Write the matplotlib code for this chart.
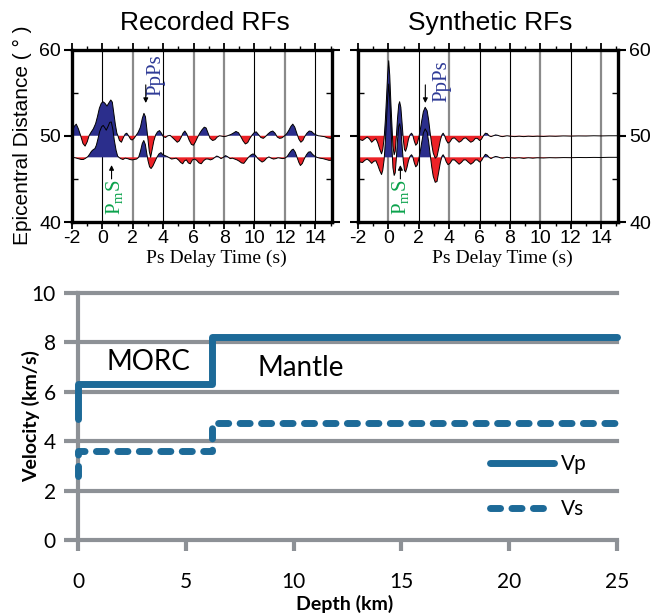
import numpy as np
import matplotlib.pyplot as plt

plt.rcParams['font.family'] = 'Liberation Sans'
plt.rcParams['axes.unicode_minus'] = False
plt.rcParams['mathtext.fontset'] = 'custom'
plt.rcParams['mathtext.rm'] = 'Liberation Serif'

# ---- receiver function traces (delay time in s, amplitude in degrees of offset) ----
rec_top_t = [-2.0, -1.85, -1.72, -1.58, -1.43, -1.28, -1.14, -1.0, -0.88, -0.75, -0.6, -0.45,
             -0.33, -0.2, -0.08, 0.03, 0.15, 0.3, 0.42, 0.55, 0.65, 0.75, 0.85, 0.95, 1.02, 1.12,
             1.25, 1.38, 1.5, 1.6, 1.72, 1.85, 1.95, 2.08, 2.2, 2.35, 2.5, 2.62, 2.73, 2.83, 2.92,
             3.0, 3.08, 3.17, 3.27, 3.38, 3.5, 3.62, 3.75, 3.88, 4.0, 4.15, 4.3, 4.45, 4.6, 4.75,
             4.92, 5.05, 5.2, 5.3, 5.42, 5.55, 5.7, 5.85, 5.98, 6.12, 6.25, 6.4, 6.55, 6.7, 6.82,
             6.95, 7.08, 7.25, 7.4, 7.55, 7.7, 7.85, 8.0, 8.15, 8.3, 8.45, 8.6, 8.78, 8.95, 9.1,
             9.25, 9.4, 9.55, 9.7, 9.85, 10.0, 10.12, 10.28, 10.42, 10.58, 10.72, 10.88, 11.05,
             11.2, 11.35, 11.5, 11.65, 11.8, 11.95, 12.1, 12.25, 12.4, 12.52, 12.65, 12.8, 12.92,
             13.05, 13.18, 13.3, 13.45, 13.6, 13.75, 13.9, 14.05, 14.2, 14.4, 14.6, 14.8, 15.0, 15.1]
rec_top_a = [0.5, 1.1, 1.35, 0.8, 0.0, -0.9, -1.2, -0.7, 0.0, 0.4, 0.8, 1.4,
             2.2, 3.2, 3.75, 3.95, 3.8, 3.45, 3.8, 4.15, 3.9, 2.6, 1.3, 0.3, 0.0, -0.55,
             -0.75, -0.2, 0.2, 0.3, 0.0, -0.4, -0.5, -0.3, 0.0, 0.4, 1.0, 2.0, 2.6, 2.2, 0.8,
             -0.5, -1.8, -2.5, -1.6, -0.6, 0.1, 0.45, 0.6, 0.3, -0.1, -0.2, 0.0, 0.05, -0.2, -0.45,
             -0.75, -0.6, -0.1, 0.3, 0.55, 0.2, -0.5, -1.0, -1.1, -0.7, -0.2, 0.3, 0.7, 1.0, 0.9,
             0.3, -0.3, -0.55, -0.45, -0.15, 0.0, -0.05, -0.1, -0.05, 0.05, 0.15, 0.3, 0.5, 0.35, -0.1,
             -0.6, -0.95, -0.8, -0.3, 0.1, 0.4, 0.45, 0.1, -0.2, -0.3, -0.1, 0.2, 0.45,
             0.55, 0.3, -0.15, -0.3, -0.25, -0.05, 0.2, 0.6, 1.1, 1.35, 1.0, 0.2, -0.4,
             -0.75, -0.55, -0.1, 0.3, 0.55, 0.5, 0.25, 0.1, 0.0, -0.05, -0.1, -0.25, -0.3, -0.3]

rec_bot_t = [-2.0, -1.8, -1.6, -1.4, -1.25, -1.1, -0.95, -0.85, -0.72, -0.6, -0.5, -0.4, -0.3,
             -0.18, -0.05, 0.05, 0.15, 0.25, 0.35, 0.48, 0.58, 0.68, 0.78, 0.9, 1.0, 1.08, 1.2,
             1.35, 1.5, 1.65, 1.8, 1.95, 2.1, 2.25, 2.38, 2.5, 2.62, 2.72, 2.82, 2.92, 3.0, 3.1,
             3.2, 3.32, 3.45, 3.58, 3.72, 3.85, 3.98, 4.12, 4.25, 4.4, 4.55, 4.7, 4.85, 5.0, 5.15,
             5.28, 5.4, 5.52, 5.65, 5.78, 5.92, 6.05, 6.2, 6.35, 6.5, 6.65, 6.8, 6.95, 7.1, 7.25,
             7.4, 7.52, 7.65, 7.8, 7.95, 8.1, 8.25, 8.4, 8.55, 8.7, 8.85, 9.0, 9.15, 9.3, 9.45,
             9.6, 9.75, 9.9, 10.05, 10.2, 10.35, 10.5, 10.65, 10.8, 10.95, 11.1, 11.25, 11.4,
             11.55, 11.7, 11.85, 12.0, 12.15, 12.3, 12.45, 12.55, 12.68, 12.8, 12.92, 13.02,
             13.15, 13.28, 13.42, 13.55, 13.68, 13.82, 13.95, 14.1, 14.3, 14.5, 14.7, 14.9, 15.1]
rec_bot_a = [0.0, -0.05, -0.15, -0.25, -0.25, -0.1, 0.1, 0.35, 0.7, 0.9, 1.0, 1.4, 2.1,
             3.0, 3.55, 3.7, 3.45, 3.15, 3.5, 4.05, 4.1, 3.3, 2.0, 0.8, 0.15, 0.0, -0.15,
             -0.25, -0.1, -0.15, -0.25, -0.3, -0.25, -0.2, 0.0, 0.7, 1.6, 1.95, 1.5, 0.4, -0.4, -1.1,
             -1.3, -1.0, -0.5, 0.0, 0.4, 0.55, 0.3, 0.2, 0.1, -0.05, -0.2, -0.15, -0.1, -0.3, -0.6,
             -0.75, -0.4, -0.3, -0.65, -0.75, -0.3, -0.2, -0.35, -0.65, -0.75, -0.4, -0.2, -0.2, -0.3, -0.2,
             0.0, 0.15, 0.05, -0.15, 0.0, 0.2, 0.05, -0.15, -0.1, -0.2, -0.3, -0.45, -0.65, -0.7, -0.35,
             0.0, 0.25, 0.4, 0.25, -0.1, -0.35, -0.55, -0.4, -0.1, 0.05, -0.1, -0.2, -0.15,
             -0.05, -0.1, -0.15, -0.1, 0.1, 0.5, 0.85, 0.95, 0.6, 0.0, -0.6, -0.95,
             -0.7, -0.15, 0.3, 0.6, 0.65, 0.35, 0.15, 0.0, -0.1, -0.15, -0.25, -0.35, -0.35]

syn_t = [-2.0, -1.85, -1.7, -1.55, -1.4, -1.25, -1.1, -0.95, -0.82, -0.7, -0.58, -0.45, -0.37,
         -0.28, -0.2, -0.12, -0.05, 0.02, 0.09, 0.16, 0.24, 0.3, 0.38, 0.45, 0.52, 0.6, 0.68,
         0.74, 0.82, 0.9, 0.98, 1.06, 1.13, 1.22, 1.32, 1.42, 1.52, 1.6, 1.7, 1.8, 1.9, 2.0,
         2.1, 2.2, 2.3, 2.42, 2.55, 2.65, 2.75, 2.85, 2.95, 3.08, 3.2, 3.32, 3.42, 3.52, 3.6,
         3.7, 3.8, 3.92, 4.05, 4.2, 4.35, 4.5, 4.65, 4.8, 4.95, 5.1, 5.25, 5.42, 5.58, 5.72,
         5.85, 6.0, 6.12, 6.25, 6.38, 6.5, 6.62, 6.75, 6.9, 7.05, 7.2, 7.35, 7.5, 7.65, 7.8,
         8.0, 8.3, 8.6, 8.9, 9.2, 9.5, 9.8, 10.2, 10.6, 11.0, 11.5, 12.0, 12.5, 13.0, 13.5,
         14.0, 14.5, 15.1]
syn_top_a = [-0.3, -0.45, -0.55, -0.35, -0.15, -0.35, -0.75, -0.5, -0.35, -0.8, -1.5, -2.1, -1.6,
             -0.3, 1.8, 4.5, 7.0, 8.7, 7.0, 4.0, 1.0, -1.2, -2.2, -1.8, -0.2, 2.0, 3.6,
             3.95, 3.3, 1.5, -0.4, -1.6, -1.8, -1.3, -0.4, 0.1, 0.3, 0.1, -0.6, -1.1, -0.9, -0.2,
             0.7, 1.8, 2.8, 3.3, 2.9, 1.8, 0.3, -1.0, -2.0, -2.6, -2.4, -1.4, -0.5, 0.1, 0.3,
             0.0, -0.5, -0.85, -0.7, -0.3, -0.25, -0.5, -0.75, -0.6, -0.3, -0.25, -0.5, -0.75, -0.6, -0.3,
             -0.3, -0.55, -0.4, 0.0, 0.3, 0.25, 0.0, -0.1, 0.0, 0.1, 0.05, -0.05, -0.1, -0.05, 0.0,
             -0.05, -0.1, -0.05, -0.1, -0.05, -0.08, -0.05, -0.08, -0.04, -0.06, -0.02, -0.04, -0.02, -0.03, 0.0,
             -0.02, 0.0, 0.0]
syn_bot_a = [-0.4, -0.55, -0.6, -0.35, -0.2, -0.4, -0.7, -0.45, -0.4, -0.9, -1.5, -2.0, -1.5,
             -0.3, 1.8, 4.4, 6.8, 8.5, 6.8, 3.9, 0.9, -1.2, -2.1, -1.8, -0.2, 2.0, 3.6,
             3.9, 3.2, 1.4, -0.4, -1.5, -1.7, -1.2, -0.4, 0.1, 0.3, 0.1, -0.6, -1.1, -0.9, -0.2,
             0.7, 1.8, 2.8, 3.3, 2.9, 1.8, 0.3, -1.1, -2.2, -2.9, -2.8, -1.6, -0.6, 0.1, 0.3,
             0.0, -0.5, -0.85, -0.7, -0.3, -0.3, -0.55, -0.8, -0.6, -0.3, -0.3, -0.55, -0.8, -0.6, -0.3,
             -0.3, -0.55, -0.4, 0.0, 0.35, 0.25, 0.0, -0.15, 0.0, 0.1, 0.05, -0.05, -0.1, -0.05, 0.0,
             -0.05, -0.1, -0.05, -0.12, -0.05, -0.1, -0.05, -0.08, -0.04, -0.06, -0.03, -0.04, -0.02, -0.03, -0.01,
             -0.02, 0.0, 0.0]

dist_top, dist_bot = 50.0, 47.5   # epicentral distance of the two stacked traces

# ---- velocity model ----
depth = [0, 0, 6.2, 6.2, 25]
vp = [4.9, 6.3, 6.3, 8.2, 8.2]
vs = [2.6, 3.6, 3.6, 4.75, 4.75]

blue, red, green, navy = '#2b2e8c', '#ec2227', '#0aa24b', '#2e3a96'
line_c, grid_c = '#1d6a98', '#8d9196'

fig = plt.figure(figsize=(6.65, 6.16), dpi=100)
ax1 = fig.add_axes([0.1083, 0.6396, 0.391, 0.28])
ax2 = fig.add_axes([0.5383, 0.6396, 0.391, 0.28])
ax3 = fig.add_axes([0.1173, 0.1234, 0.8105, 0.401])


def draw_trace(ax, t, a, base):
    t = np.asarray(t)
    a = np.asarray(a)
    ax.fill_between(t, base, base + a, where=a >= 0, interpolate=True, color=blue, lw=0, zorder=2)
    ax.fill_between(t, base, base + a, where=a <= 0, interpolate=True, color=red, lw=0, zorder=2)
    ax.plot(t, base + a, color='k', lw=0.7, zorder=3)


def setup_rf(ax, grid_dark, right_labels):
    ax.set_xlim(-2, 15.1)
    ax.set_ylim(40, 60)
    for s in ax.spines.values():
        s.set_linewidth(2.4)
    ax.set_xticks(range(-2, 15, 2))
    ax.set_xticks(range(-2, 16), minor=True)
    ax.set_yticks([40, 50, 60])
    ax.set_yticks([45, 55], minor=True)
    ax.tick_params(axis='x', which='both', top=True, bottom=True, direction='out')
    ax.tick_params(axis='x', which='major', length=5, width=1.3, labelsize=14, pad=1)
    ax.tick_params(axis='x', which='minor', length=3, width=1)
    ax.tick_params(axis='y', which='major', left=True, right=True, direction='out',
                   length=6, width=1.5, labelsize=14, pad=2,
                   labelleft=not right_labels, labelright=right_labels)
    ax.tick_params(axis='y', which='minor', left=True, right=True, direction='in',
                   length=4, width=1)
    for x in range(0, 15, 2):
        dark = x in grid_dark
        ax.axvline(x, color='k' if dark else '#8a8a8a', lw=0.8 if dark else 1.6, zorder=1)
    ax.text(0.555, -0.158, 'Ps Delay Time (s)', transform=ax.transAxes, ha='center', va='top',
            family='Liberation Serif', fontsize=14)


setup_rf(ax1, [0, 4, 10, 14], False)
setup_rf(ax2, [2, 6, 8, 12], True)

draw_trace(ax1, rec_top_t, rec_top_a, dist_top)
draw_trace(ax1, rec_bot_t, rec_bot_a, dist_bot)
draw_trace(ax2, syn_t, syn_top_a, dist_top)
draw_trace(ax2, syn_t, syn_bot_a, dist_bot)

fig.text(0.308, 0.951, 'Recorded RFs', ha='center', va='baseline', fontsize=19)
fig.text(0.737, 0.951, 'Synthetic RFs', ha='center', va='baseline', fontsize=19)
fig.text(0.034, 0.78, 'Epicentral Distance ( ° )', rotation=90, ha='center', va='center', fontsize=15)

arrow = dict(arrowstyle='-|>', lw=0.8, color='k', mutation_scale=7, shrinkA=0, shrinkB=0)
for ax, (ppx, ppy, ax0), (pmx, ax1x) in [(ax1, (3.5, 57.0, 2.85), (0.85, 0.6)),
                                         (ax2, (3.5, 56.3, 2.43), (0.82, 0.79))]:
    ax.text(ppx, ppy, 'PpPs', rotation=90, color=navy, family='Liberation Serif',
            fontsize=15, ha='center', va='center', zorder=5)
    ax.annotate('', xy=(ax0, 53.8), xytext=(ax0, 55.9), arrowprops=arrow, zorder=5)
    ax.text(pmx, 42.9, r'P$_\mathrm{m}$S', rotation=90, color=green, family='Liberation Serif',
            fontsize=15, ha='center', va='center', zorder=5)
    ax.annotate('', xy=(ax1x, 46.6), xytext=(ax1x, 45.0), arrowprops=arrow, zorder=5)

# ---- velocity profile ----
ax3.plot(depth, vp, color=line_c, lw=5, solid_capstyle='round', solid_joinstyle='round',
         label='Vp', zorder=3, clip_on=False)
ax3.plot(depth, vs, color=line_c, lw=5, dashes=(1.45, 1.64), dash_capstyle='round',
         label='Vs', zorder=3, clip_on=False)
ax3.set_xlim(0, 25)
ax3.set_ylim(0, 10)
ax3.set_xticks(range(0, 26, 5))
ax3.set_yticks(range(0, 11, 2))
ax3.set_axisbelow(True)
ax3.grid(axis='y', color=grid_c, lw=3)
for gl in ax3.get_ygridlines():
    gl.set_clip_on(False)
for side in ['top', 'right', 'bottom']:
    ax3.spines[side].set_visible(False)
ax3.spines['left'].set_color(grid_c)
ax3.spines['left'].set_linewidth(3)
ax3.tick_params(axis='y', length=10, width=3, color=grid_c, labelsize=15, pad=6)
ax3.tick_params(axis='x', length=8, width=3, color=grid_c, labelsize=15, pad=15)
for lab in ax3.get_xticklabels() + ax3.get_yticklabels():
    lab.set_family('Lato')
ax3.set_xlabel('Depth (km)', family='Lato', fontweight='bold', fontsize=14)
ax3.xaxis.set_label_coords(0.495, -0.222)
ax3.set_ylabel('Velocity (km/s)', family='Lato', fontweight='bold', fontsize=14)
ax3.yaxis.set_label_coords(-0.07, 0.5)
ax3.text(3.25, 7.2, 'MORC', family='Lato', fontsize=20, ha='center', va='center')
ax3.text(10.35, 6.95, 'Mantle', family='Lato', fontsize=20, ha='center', va='center')
ax3.legend(loc='center left', bbox_to_anchor=(0.764, 0.217), frameon=False,
           prop={'family': 'Lato', 'size': 15}, handlelength=3.1, labelspacing=1.2,
           handletextpad=0.3, borderpad=0, borderaxespad=0)

fig.savefig('out.png', dpi=100)
